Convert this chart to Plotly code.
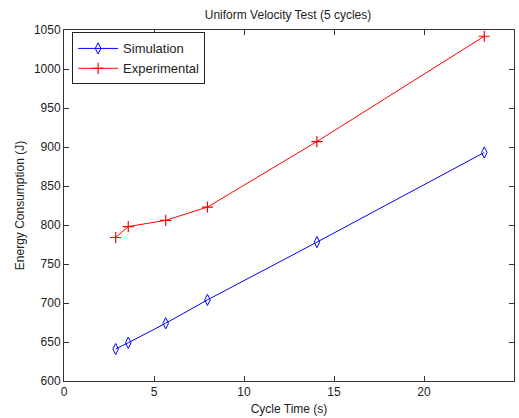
import plotly.graph_objects as go

# Cycle times (s) and measured/simulated energy (J)
cycle_time = [2.87, 3.57, 5.65, 7.97, 14.05, 23.35]
simulation = [641, 649, 674, 704, 778, 893]
experimental = [784, 798, 806, 823, 907, 1042]

x_ticks = [0, 5, 10, 15, 20, 25]
y_ticks = [600, 650, 700, 750, 800, 850, 900, 950, 1000, 1050]

font_family = "Liberation Sans, Arial, sans-serif"

fig = go.Figure()
fig.add_trace(go.Scatter(
    x=cycle_time, y=simulation, name="Simulation",
    mode="lines+markers",
    line=dict(color="#0000ff", width=1),
    marker=dict(symbol="diamond-tall-open", size=8, color="#0000ff",
                line=dict(width=1, color="#0000ff")),
))
fig.add_trace(go.Scatter(
    x=cycle_time, y=experimental, name="Experimental",
    mode="lines+markers",
    line=dict(color="#ff0000", width=1),
    marker=dict(symbol="cross-thin-open", size=8, color="#ff0000",
                line=dict(width=1.2, color="#ff0000")),
))

axis_common = dict(
    showgrid=False, zeroline=False,
    showline=True, linecolor="#333333", linewidth=1, mirror="ticks",
    ticks="inside", ticklen=5, tickcolor="#333333",
    tickfont=dict(size=12, color="#222222", family=font_family),
)

fig.update_layout(
    width=519, height=418,
    margin=dict(l=64, r=5, t=30, b=37),
    paper_bgcolor="white", plot_bgcolor="white",
    font=dict(family=font_family, size=12, color="#222222"),
    title=dict(text="Uniform Velocity Test (5 cycles)", x=0.555, xanchor="center",
               y=0.965, yanchor="middle", font=dict(size=12, color="#222222")),
    xaxis=dict(range=[0, 25], tickvals=x_ticks,
               title=dict(text="Cycle Time (s)", standoff=6, font=dict(size=12)),
               **axis_common),
    yaxis=dict(range=[600, 1050], tickvals=y_ticks,
               title=dict(text="Energy Consumption (J)", standoff=6, font=dict(size=12)),
               **axis_common),
    legend=dict(x=0.018, y=0.993, xanchor="left", yanchor="top",
                bgcolor="white", bordercolor="#222222", borderwidth=1,
                font=dict(size=13, color="#222222"), tracegroupgap=0,
                itemwidth=40),
    showlegend=True,
)

fig.write_html("out.html")
